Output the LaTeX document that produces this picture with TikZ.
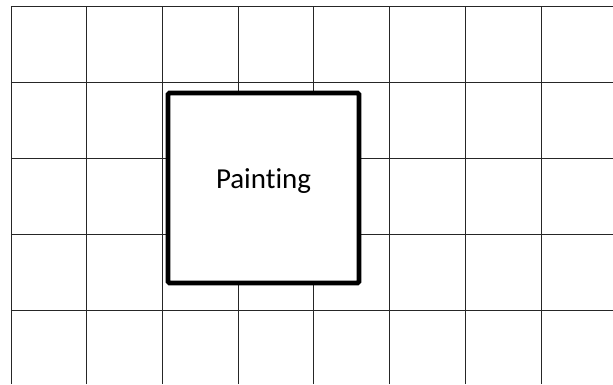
\documentclass[tikz,border=0pt]{standalone}
\usepackage{fontspec}
\setmainfont{Carlito}[Ligatures=NoCommon]

\begin{document}
\begin{tikzpicture}
            \useasboundingbox (0,0) rectangle (15.325,9.6);
            \begin{scope}
                \clip (0.275,0) rectangle (15.325,9.45);
                \foreach \x in {0,...,7}
                    \draw[line width=0.6pt, black!85] (0.275+1.8929*\x,0) -- (0.275+1.8929*\x,9.45);
                \foreach \y in {0,...,4}
                    \draw[line width=0.6pt, black!85] (0.275,9.45-1.9*\y) -- (15.325,9.45-1.9*\y);
            \end{scope}
            \node[draw, line width=3.3pt, fill=white, rounded corners=1pt,
                  minimum width=4.775cm, minimum height=4.75cm, inner sep=0pt,
                  text height=0.3cm, text depth=0.3cm,
                  font=\fontsize{20.6}{24}\selectfont] (painting) at (6.5875,4.9) {Painting};
        \end{tikzpicture}
\end{document}
